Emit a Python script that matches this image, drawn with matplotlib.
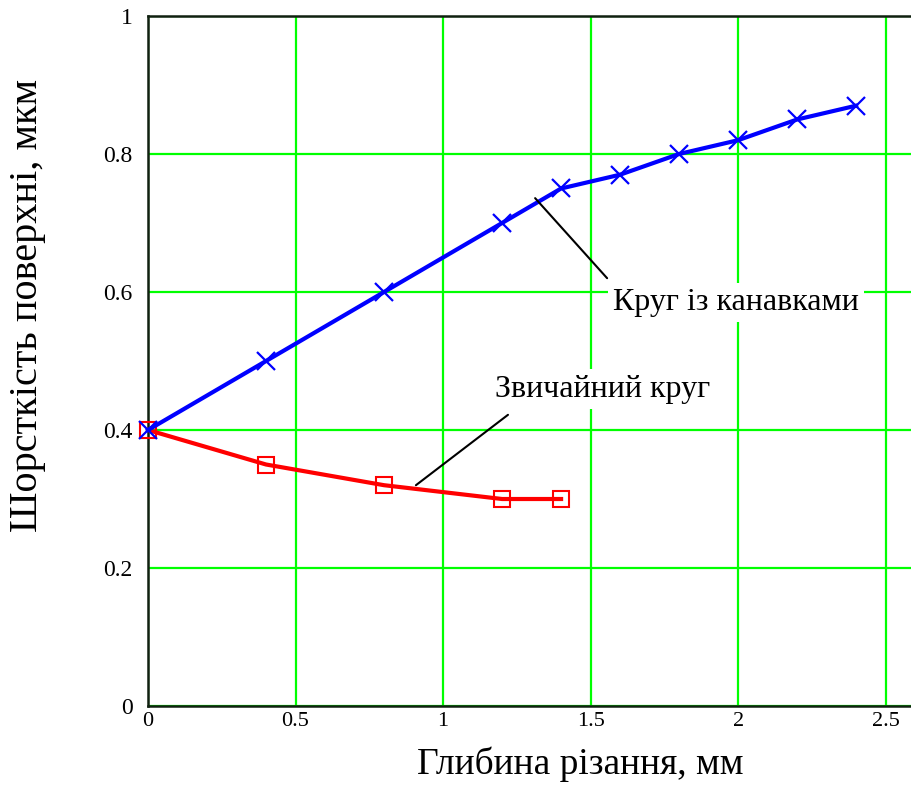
import matplotlib
matplotlib.use("Agg")
import matplotlib.pyplot as plt

plt.rcParams['font.family'] = ['Liberation Serif', 'DejaVu Serif']

# глибина різання, мм
x_grooved = [0, 0.4, 0.8, 1.2, 1.4, 1.6, 1.8, 2.0, 2.2, 2.4]
y_grooved = [0.40, 0.50, 0.60, 0.70, 0.75, 0.77, 0.80, 0.82, 0.85, 0.87]

x_plain = [0, 0.4, 0.8, 1.2, 1.4]
y_plain = [0.40, 0.35, 0.32, 0.30, 0.30]

x_ticks = [0, 0.5, 1, 1.5, 2, 2.5]
x_tick_labels = ['0', '0.5', '1', '1.5', '2', '2.5']
y_ticks = [0, 0.2, 0.4, 0.6, 0.8, 1]
y_tick_labels = ['0', '0.2', '0.4', '0.6', '0.8', '1']

fig = plt.figure(figsize=(9.11, 7.87), dpi=100)
ax = fig.add_axes([0.1625, 0.1029, 0.8375, 0.8768])

ax.plot(x_plain, y_plain, color='red', lw=3, marker='s', ms=12,
        mfc='none', mec='red', mew=1.5, clip_on=False, zorder=3)
ax.plot(x_grooved, y_grooved, color='#0000ff', lw=3, marker='x', ms=13,
        mec='#0000ff', mew=1.6, clip_on=False, zorder=4)

ax.set_xlim(0, 2.586)
ax.set_ylim(0, 1)
ax.set_xticks(x_ticks)
ax.set_xticklabels(x_tick_labels, fontsize=16)
ax.set_yticks(y_ticks)
ax.set_yticklabels(y_tick_labels, fontsize=17)
ax.tick_params(axis='x', length=0, pad=4)
ax.tick_params(axis='y', length=0, pad=11)

ax.grid(True, color='#00ff00', lw=1.6)
ax.set_axisbelow(True)
for s in ['left', 'bottom', 'top']:
    ax.spines[s].set_linewidth(1.8)
    ax.spines[s].set_color('#102010')
ax.spines['right'].set_visible(False)

ax.set_xlabel('Глибина різання, мм', fontsize=27)
ax.set_ylabel('Шорсткість поверхні, мкм', fontsize=29)
ax.xaxis.set_label_coords(0.566, -0.058)
ax.yaxis.set_label_coords(-0.134, 0.581)

# підписи кривих
ax.annotate('', xy=(1.312, 0.736), xytext=(1.556, 0.620),
            arrowprops=dict(arrowstyle='-', color='black', lw=1.5,
                            shrinkA=0, shrinkB=0), zorder=5)
ax.text(1.576, 0.574, 'Круг із канавками', fontsize=23, va='baseline',
        bbox=dict(facecolor='white', edgecolor='none', pad=4), zorder=6)

ax.annotate('', xy=(0.908, 0.320), xytext=(1.22, 0.422),
            arrowprops=dict(arrowstyle='-', color='black', lw=1.5,
                            shrinkA=0, shrinkB=0), zorder=5)
ax.text(1.176, 0.448, 'Звичайний круг', fontsize=23, va='baseline',
        bbox=dict(facecolor='white', edgecolor='none', pad=4), zorder=6)

fig.savefig('out.png', dpi=100)
